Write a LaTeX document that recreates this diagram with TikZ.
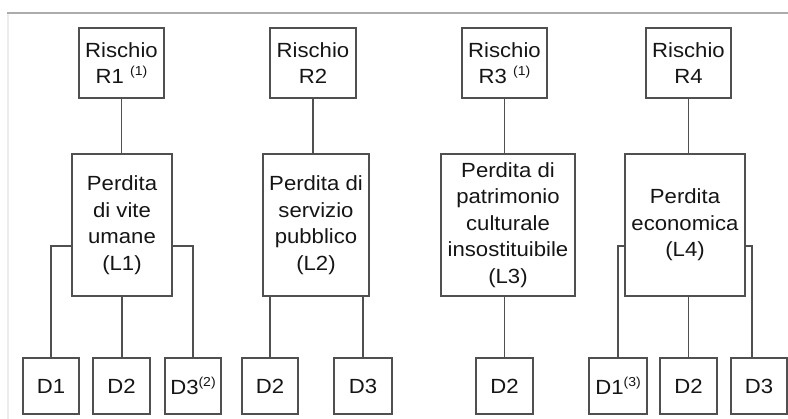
\documentclass[tikz,border=0pt]{standalone}
\usepackage{fontspec}
\setmainfont[FakeStretch=1.08]{Liberation Sans}
\definecolor{boxline}{HTML}{505050}
\definecolor{txt}{HTML}{151515}
\newcommand{\supn}[1]{\raisebox{8pt}{\fontsize{13}{13}\selectfont #1}}
\tikzset{
  bx/.style={draw=boxline, line width=1.8pt, inner sep=0pt, align=center, text=txt,
    font=\fontsize{20.5}{26.5}\selectfont},
  rbox/.style={bx, minimum width=85pt, minimum height=70pt, font=\fontsize{20.5}{25.5}\selectfont},
  lbox/.style={bx, minimum height=142pt},
  dbox/.style={bx, minimum width=57pt, minimum height=56pt},
  conn/.style={draw=boxline, line width=1.6pt}
}
\begin{document}
\begin{tikzpicture}[x=1pt,y=-1pt]
\useasboundingbox (0,0) rectangle (788,419);
\fill[white] (0,0) rectangle (788,419);
% frame
\draw[gray!15, line width=1.5pt] (8,13) -- (8,419);
\draw[gray!65, line width=2pt] (7,13) -- (788,13);
% risk boxes
\node[rbox] (R1) at (121.5,63) {Rischio\\R1 \supn{(1)}};
\node[rbox, minimum width=86pt] (R2) at (313,63) {Rischio\\R2};
\node[rbox] (R3) at (504.5,63) {Rischio\\R3 \supn{(1)}};
\node[rbox] (R4) at (688.5,63) {Rischio\\R4};
% loss boxes
\node[lbox, minimum width=100pt] (L1) at (122,225) {Perdita\\di vite\\umane\\(L1)};
\node[lbox, minimum width=106pt] (L2) at (316,225) {Perdita di\\servizio\\pubblico\\(L2)};
\node[lbox, minimum width=134pt] (L3) at (508,225) {Perdita di\\patrimonio\\culturale\\insostituibile\\(L3)};
\node[lbox, minimum width=120pt] (L4) at (685,225) {Perdita\\economica\\(L4)};
% damage boxes
\node[dbox, minimum width=56pt] (D1a) at (51,386) {D1};
\node[dbox] (D2a) at (121.5,386) {D2};
\node[dbox, minimum width=56pt] (D3a) at (193,386) {D3\supn{(2)}};
\node[dbox, minimum width=56pt] (D2b) at (270,386) {D2};
\node[dbox, minimum width=58pt] (D3b) at (363,386) {D3};
\node[dbox] (D2c) at (504.5,386) {D2};
\node[dbox, minimum width=58pt] (D1d) at (618,386) {D1\supn{(3)}};
\node[dbox] (D2d) at (688.5,386) {D2};
\node[dbox, minimum width=56pt] (D3d) at (759,386) {D3};
% risk -> loss
\draw[conn] (R1.south) -- (R1.south |- L1.north);
\draw[conn] (R2.south) -- (R2.south |- L2.north);
\draw[conn] (R3.south) -- (R3.south |- L3.north);
\draw[conn] (R4.south) -- (R4.south |- L4.north);
% loss -> damage
\draw[conn] (L1.west |- 0,246) -| (D1a.north);
\draw[conn] (L1.south) -- (L1.south |- D2a.north);
\draw[conn] (L1.east |- 0,246) -| (D3a.north);
\draw[conn] (D2b.north |- L2.south) -- (D2b.north);
\draw[conn] (D3b.north |- L2.south) -- (D3b.north);
\draw[conn] (D2c.north |- L3.south) -- (D2c.north);
\draw[conn] (L4.west |- 0,246) -| (D1d.north);
\draw[conn] (D2d.north |- L4.south) -- (D2d.north);
\coordinate (d3top) at (752,358);
\draw[conn] (L4.east |- 0,246) -| (d3top);
\end{tikzpicture}
\end{document}
